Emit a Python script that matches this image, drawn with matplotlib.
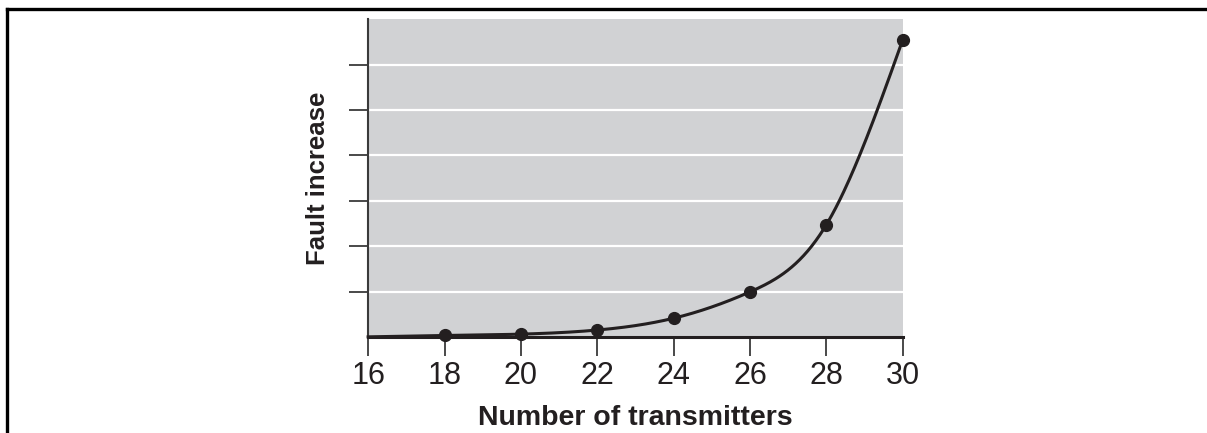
import matplotlib
matplotlib.use("Agg")
import matplotlib.pyplot as plt
from matplotlib.lines import Line2D
import numpy as np

plt.rcParams['font.family'] = ['Liberation Sans', 'DejaVu Sans']

# data
transmitters = [18, 20, 22, 24, 26, 28, 30]
fault_increase = [0.04, 0.07, 0.16, 0.42, 1.0, 2.48, 6.55]
# the curve also starts at the left edge (no marker there)
curve_x = [16] + transmitters
curve_y = [0.01] + fault_increase
x_ticks = [16, 18, 20, 22, 24, 26, 28, 30]
y_ticks = [1, 2, 3, 4, 5, 6]


def natural_spline(xk, yk, xs):
    # natural cubic spline through the knots
    xk = np.asarray(xk, float)
    yk = np.asarray(yk, float)
    n = len(xk)
    h = np.diff(xk)
    A = np.zeros((n, n))
    b = np.zeros(n)
    A[0, 0] = A[-1, -1] = 1
    for i in range(1, n - 1):
        A[i, i - 1] = h[i - 1]
        A[i, i] = 2 * (h[i - 1] + h[i])
        A[i, i + 1] = h[i]
        b[i] = 6 * ((yk[i + 1] - yk[i]) / h[i] - (yk[i] - yk[i - 1]) / h[i - 1])
    m = np.linalg.solve(A, b)
    idx = np.clip(np.searchsorted(xk, xs) - 1, 0, n - 2)
    t = xs - xk[idx]
    hi = h[idx]
    a = (m[idx + 1] - m[idx]) / (6 * hi)
    c = m[idx] / 2
    d = (yk[idx + 1] - yk[idx]) / hi - hi * (2 * m[idx] + m[idx + 1]) / 6
    return yk[idx] + d * t + c * t ** 2 + a * t ** 3


fig = plt.figure(figsize=(12.07, 4.33), dpi=100)
ax = fig.add_axes([0.305, 0.221, 0.443, 0.735])

ax.set_facecolor('#d1d2d4')
ax.set_xlim(16, 30)
ax.set_ylim(0, 7)

xs = np.linspace(16, 30, 400)
ax.plot(xs, natural_spline(curve_x, curve_y, xs), color='#231f20', lw=2.2,
        zorder=3, clip_on=False)
ax.plot(transmitters, fault_increase, 'o', color='#231f20', ms=8.5,
        zorder=4, clip_on=False)

ax.set_xticks(x_ticks)
ax.set_yticks(y_ticks)
ax.set_yticklabels([])
ax.grid(axis='y', color='white', lw=1.6)
ax.set_axisbelow(True)

for s in ['top', 'right']:
    ax.spines[s].set_visible(False)
ax.spines['left'].set_color('#3a3a3a')
ax.spines['left'].set_linewidth(1.5)
ax.spines['bottom'].set_color('#231f20')
ax.spines['bottom'].set_linewidth(2.2)

ax.tick_params(axis='both', direction='out', length=14, width=1.3,
               color='#3a3a3a')
ax.tick_params(axis='x', labelsize=22, pad=3, labelcolor='#231f20')

ax.set_xlabel('Number of transmitters', fontsize=20.5, fontweight='bold',
              color='#231f20', labelpad=10)
ax.set_ylabel('Fault increase', fontsize=18.5, fontweight='bold',
              color='#231f20', labelpad=10)

# frame lines at top and left of the figure
fig.add_artist(Line2D([0.0058, 1.0], [0.9792, 0.9792], color='black', lw=2.4,
                      transform=fig.transFigure))
fig.add_artist(Line2D([0.0058, 0.0058], [0.0, 0.9792], color='black', lw=2.4,
                      transform=fig.transFigure))

fig.savefig('out.png', dpi=100)
